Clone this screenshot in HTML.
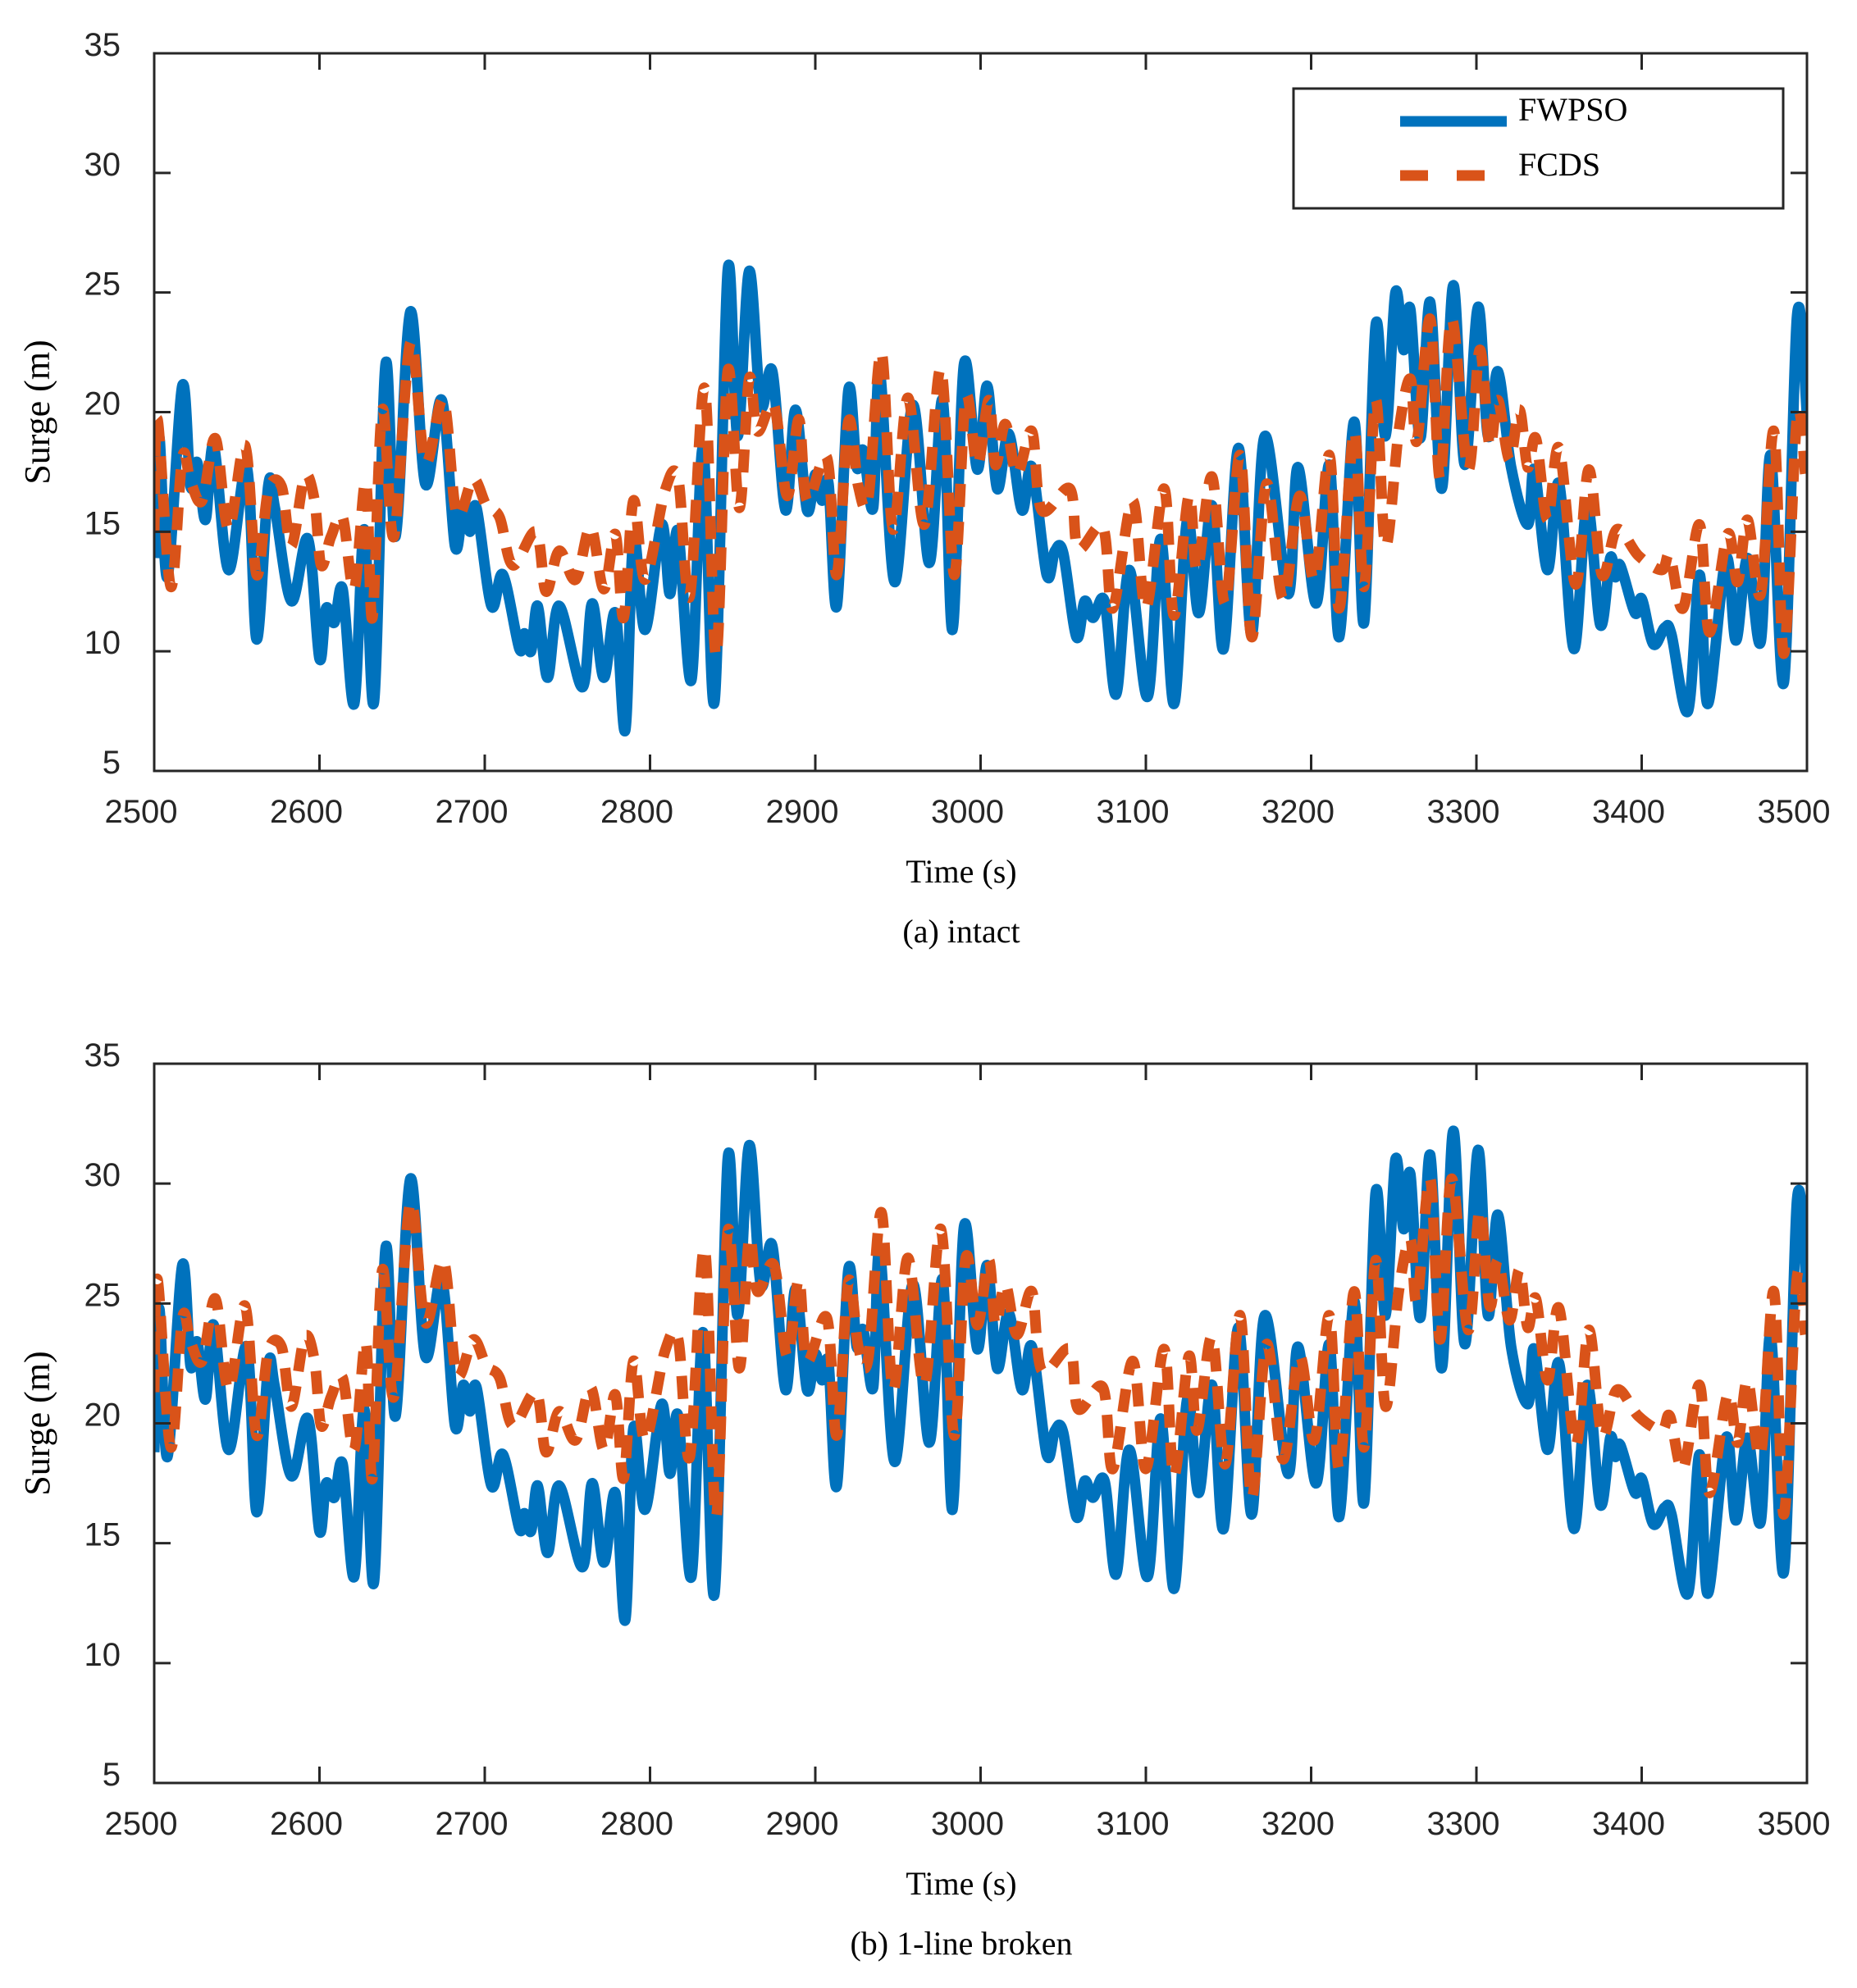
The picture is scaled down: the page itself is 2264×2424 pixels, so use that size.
<!DOCTYPE html>
<html><head><meta charset="utf-8"><style>
html,body{margin:0;padding:0;background:#fff;}
svg{display:block;}
</style></head><body>
<svg id="fig" width="2264" height="2424" viewBox="0 0 2264 2424" xmlns="http://www.w3.org/2000/svg"></svg>
<script>
const xTicks=[2500,2600,2700,2800,2900,3000,3100,3200,3300,3400,3500];
const yTicks=[5,10,15,20,25,30,35];
const tBlue=[2500,2503,2508,2517,2522,2526,2531,2536,2545,2556,
2562,2569,2573,2583,2593,2600,2604,2609,2614,2621,
2627,2633,2640,2646,2655,2664,2674,2682,2687,2691,
2695,2704,2711,2721,2724,2728,2732,2738,2745,2759,
2765,2772,2779,2785,2790,2797,2807,2812,2817,2825,
2832,2839,2847,2853,2860,2867,2874,2882,2888,2895,
2900,2904,2908,2913,2920,2925,2929,2935,2939,2948,
2959,2969,2977,2983,2990,2998,3004,3010,3017,3025,
3031,3040,3045,3050,3058,3063,3068,3075,3082,3090,
3101,3109,3117,3125,3132,3140,3147,3156,3164,3172,
3186,3192,3203,3211,3217,3226,3232,3239,3245,3251,
3256,3260,3266,3272,3279,3286,3293,3301,3307,3313,
3321,3331,3335,3343,3350,3359,3367,3375,3381,3384,
3387,3396,3400,3407,3414,3418,3428,3435,3440,3451,
3457,3464,3472,3478,3486,3494,3500];
const fwpsoIntact=[13.9,19.0,13.1,21.1,16.9,17.9,15.5,18.6,13.4,17.7,
10.5,16.9,16.0,12.1,14.7,9.7,11.8,11.2,12.6,7.8,
15.1,7.9,22.0,14.8,24.2,17.0,20.5,14.4,16.1,15.0,
16.0,11.9,13.2,10.1,10.75,10.0,11.9,8.9,11.9,8.5,
12.0,8.9,11.6,6.7,14.7,10.9,15.3,12.4,15.0,8.8,
18.5,7.9,25.9,19.0,25.9,20.3,21.7,15.9,20.1,15.9,
17.4,16.3,17.0,11.9,20.9,17.7,18.4,16.0,21.7,12.9,
20.3,13.7,20.5,10.9,22.0,17.6,21.1,16.8,19.1,15.9,
17.7,13.2,14.2,14.1,10.6,12.1,11.4,12.1,8.2,13.4,
8.1,14.7,7.8,15.5,11.6,16.1,10.1,18.5,10.7,19.0,
12.4,17.7,12.0,17.8,10.6,19.6,11.2,23.6,19.0,25.0,
22.6,24.3,18.9,24.6,16.8,25.3,17.8,24.4,19.0,21.7,
17.7,15.3,17.6,13.4,17.0,10.1,16.1,11.1,13.9,13.1,
13.6,11.6,12.2,10.3,11.0,10.7,7.5,13.2,7.8,13.9,
10.45,13.9,10.4,18.2,8.7,24.0,19.9];
const fwpsoBroken=[18.8,24.8,18.6,26.6,22.4,23.4,21.0,24.1,18.9,23.2,
16.3,22.4,21.5,17.8,20.2,15.5,17.5,16.9,18.3,13.6,
20.6,13.4,27.3,20.3,30.2,22.8,26.0,19.9,21.6,20.5,
21.5,17.4,18.7,15.6,16.25,15.5,17.4,14.6,17.4,14.0,
17.5,14.2,17.1,11.8,19.8,16.4,20.8,17.9,20.3,13.6,
23.8,12.9,31.0,24.5,31.6,25.8,27.4,21.4,25.6,21.4,
22.9,21.8,22.5,17.4,26.4,23.2,23.9,21.5,27.2,18.4,
25.8,19.2,26.0,16.4,28.2,23.1,26.6,22.3,24.6,21.4,
23.2,18.7,19.7,19.6,16.1,17.6,16.9,17.6,13.7,18.9,
13.6,20.2,13.1,21.0,17.1,21.6,15.6,24.0,16.2,24.5,
17.9,23.2,17.5,23.3,16.1,25.1,16.7,29.6,24.5,31.0,
28.1,30.4,24.4,31.2,22.3,32.2,23.3,31.4,24.5,28.7,
23.2,20.8,23.1,18.9,22.5,15.6,21.6,16.6,19.4,18.6,
19.1,17.1,17.7,15.8,16.5,16.2,12.9,18.7,12.9,19.4,
15.95,19.4,15.9,23.7,13.8,29.3,25.4];
const tOrange=[2500,2502,2510,2517,2522,2529,2537,2545,2555,2562,
2569,2577,2583,2591,2597,2601,2607,2614,2621,2628,
2632,2638,2645,2655,2664,2675,2683,2693,2701,2709,
2717,2731,2737,2745,2755,2764,2772,2779,2784,2790,
2797,2809,2817,2824,2833,2840,2847,2854,2860,2865,
2875,2883,2890,2895,2907,2913,2920,2926,2932,2940,
2947,2956,2966,2976,2984,2991,2998,3005,3009,3015,
3022,3031,3037,3054,3059,3074,3080,3092,3100,3111,
3117,3126,3131,3140,3148,3157,3164,3173,3183,3193,
3202,3211,3217,3226,3232,3239,3245,3253,3260,3264,
3272,3278,3285,3295,3302,3308,3313,3320,3326,3331,
3336,3343,3350,3360,3368,3376,3385,3398,3412,3417,
3425,3435,3441,3452,3458,3464,3472,3480,3486,3494,
3499];
const fcdsIntact=[15.0,19.7,12.7,18.1,17.1,16.3,18.9,15.1,18.6,13.2,
16.7,16.9,14.4,17.3,16.3,13.6,14.8,15.6,12.6,17.1,
11.4,20.1,14.8,22.9,17.9,20.5,15.75,17.2,16.1,15.6,
13.6,15.0,12.5,14.2,13.0,15.2,12.6,14.9,11.4,16.3,
13.0,16.7,17.2,12.3,21.0,9.8,21.7,16.0,21.4,19.2,
20.3,16.5,19.7,16.3,18.1,13.2,19.6,16.9,16.4,22.5,
15.1,20.6,15.3,21.8,13.2,20.6,17.8,20.5,17.8,19.5,
17.4,19.2,15.9,16.8,14.3,15.2,11.8,16.3,11.8,16.8,
11.5,16.5,13.4,17.3,12.0,18.2,10.6,17.0,12.2,16.5,
13.0,18.2,11.8,19.2,12.7,20.5,14.4,19.2,21.4,18.8,
23.9,17.2,23.9,17.6,22.6,18.6,20.5,18.0,20.1,17.7,
18.9,15.5,18.5,12.8,17.6,13.2,15.1,14.0,13.4,14.0,
11.8,15.3,10.8,14.9,12.9,15.5,12.4,19.2,9.9,19.8,
17.4];
const fcdsBroken=[21.3,26.0,19.0,24.4,23.4,22.6,25.2,21.4,24.9,19.5,
23.0,23.2,20.7,23.6,22.6,19.9,21.1,21.9,18.9,23.4,
17.7,26.4,21.1,29.2,24.2,26.8,22.05,23.5,22.4,21.9,
19.9,21.3,18.8,20.5,19.3,21.5,18.9,21.2,17.7,22.6,
19.3,23.0,23.5,18.6,27.3,16.1,28.0,22.3,27.7,25.5,
26.6,22.8,26.0,22.6,24.4,19.5,25.9,23.2,22.7,28.8,
21.4,26.9,21.6,28.1,19.5,26.9,24.1,26.8,24.1,25.8,
23.7,25.5,22.2,23.1,20.6,21.5,18.1,22.6,18.1,23.1,
17.8,22.8,19.7,23.6,18.3,24.5,16.9,23.3,18.5,22.8,
19.3,24.5,18.1,25.5,19.0,26.8,20.7,25.5,27.7,25.1,
30.2,23.5,30.2,23.9,28.9,24.9,26.8,24.3,26.4,24.0,
25.2,21.8,24.8,19.1,23.9,19.5,21.4,20.3,19.7,20.3,
18.1,21.6,17.1,21.2,19.2,21.8,18.7,25.5,16.2,26.1,
23.7];

const NS='http://www.w3.org/2000/svg';
const svg=document.getElementById('fig');
function mk(tag,attrs,parent){const e=document.createElementNS(NS,tag);for(const k in attrs)e.setAttribute(k,attrs[k]);(parent||svg).appendChild(e);return e;}
const L=188,R=2203;
function pathFrom(ts,vs,sx,sy){
  const n=Math.min(ts.length,vs.length);const P=[];
  for(let i=0;i<n;i++)P.push([sx(ts[i]),sy(vs[i])]);
  let d='M'+P[0][0].toFixed(1)+','+P[0][1].toFixed(1);
  for(let i=0;i<n-1;i++){
    const p0=P[Math.max(0,i-1)],p1=P[i],p2=P[i+1],p3=P[Math.min(n-1,i+2)];
    const c1=[p1[0]+(p2[0]-p0[0])/6,p1[1]+(p2[1]-p0[1])/6];
    const c2=[p2[0]-(p3[0]-p1[0])/6,p2[1]-(p3[1]-p1[1])/6];
    d+=' C'+c1[0].toFixed(1)+','+c1[1].toFixed(1)+' '+c2[0].toFixed(1)+','+c2[1].toFixed(1)+' '+p2[0].toFixed(1)+','+p2[1].toFixed(1);
  }
  return d;
}
function panel(id,T,B,blueVals,orangeVals,caption,legend){
  const g=mk('g',{});
  
  
  const sx=t=>L+(t-2500)/1000*(R-L);
  const sy=v=>B-(v-5)/30*(B-T);
  const cid='clip-'+id;
  const cp=mk('clipPath',{id:cid},g);mk('rect',{x:L,y:T,width:R-L,height:B-T},cp);
  const blue=mk('path',{d:pathFrom(tBlue,blueVals,sx,sy),fill:'none',stroke:'#0072BD','stroke-width':13,'stroke-linejoin':'round','clip-path':'url(#'+cid+')'},g);
  
  
  const or=mk('path',{d:pathFrom(tOrange,orangeVals,sx,sy),fill:'none',stroke:'#D95319','stroke-width':13,'stroke-dasharray':'28 18','clip-path':'url(#'+cid+')'},g);
  
  
  const ax=mk('rect',{x:L,y:T,width:R-L,height:B-T,fill:'none',stroke:'#262626','stroke-width':3},g);
  
  
  xTicks.forEach(t=>{
    const x=sx(t);
    mk('line',{x1:x,y1:B,x2:x,y2:B-20,stroke:'#262626','stroke-width':3},g);
    mk('line',{x1:x,y1:T,x2:x,y2:T+20,stroke:'#262626','stroke-width':3},g);
    const tx=mk('text',{x:x-16,y:B+63,'text-anchor':'middle','font-family':'Liberation Sans, sans-serif','font-size':40,fill:'#262626'},g);
    tx.textContent=t;
    
    
  });
  yTicks.forEach(v=>{
    const y=sy(v);
    mk('line',{x1:L,y1:y,x2:L+20,y2:y,stroke:'#262626','stroke-width':3},g);
    mk('line',{x1:R,y1:y,x2:R-20,y2:y,stroke:'#262626','stroke-width':3},g);
    const ty=mk('text',{x:147,y:y+3,'text-anchor':'end','font-family':'Liberation Sans, sans-serif','font-size':40,fill:'#262626'},g);
    ty.textContent=v;
    
    
  });
  const yl=mk('text',{x:0,y:0,transform:'translate(60,'+((T+B)/2)+') rotate(-90)','text-anchor':'middle','font-family':'Liberation Serif, serif','font-size':44,fill:'#000'},g);
  yl.textContent='Surge (m)';
  
  
  const xl=mk('text',{x:1172,y:B+136,'text-anchor':'middle','font-family':'Liberation Serif, serif','font-size':40,fill:'#000'},g);
  xl.textContent='Time (s)';
  
  
  const cap=mk('text',{x:1172,y:B+209,'text-anchor':'middle','font-family':'Liberation Serif, serif','font-size':40,fill:'#000'},g);
  cap.textContent=caption;
  
  
  if(legend){
    const lg=mk('g',{},g);
    
    
    mk('rect',{x:1577,y:108,width:597,height:146,fill:'#fff',stroke:'#262626','stroke-width':3},lg);
    mk('line',{x1:1707,y1:148,x2:1837,y2:148,stroke:'#0072BD','stroke-width':13},lg);
    mk('line',{x1:1707,y1:214,x2:1837,y2:214,stroke:'#D95319','stroke-width':13,'stroke-dasharray':'34 35'},lg);
    const a=mk('text',{x:1851,y:147,'font-family':'Liberation Serif, serif','font-size':40,fill:'#000'},lg);
    a.textContent='FWPSO';
    
    
    const b=mk('text',{x:1851,y:214,'font-family':'Liberation Serif, serif','font-size':40,fill:'#000'},lg);
    b.textContent='FCDS';
    
    
  }
}
panel('panel-intact',65,940,fwpsoIntact,fcdsIntact,'(a) intact',true);
panel('panel-broken',1297,2174,fwpsoBroken,fcdsBroken,'(b) 1-line broken',false);
</script>
</body></html>
